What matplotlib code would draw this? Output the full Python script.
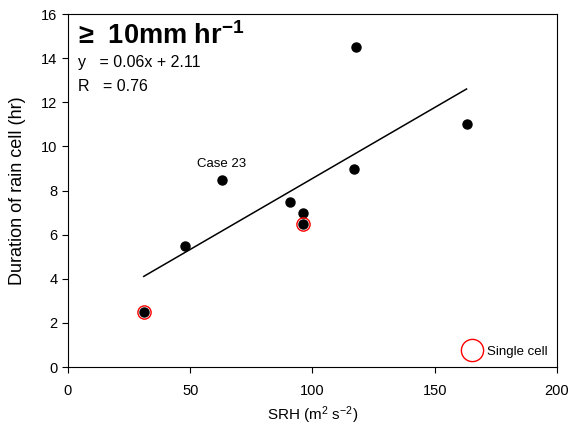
import numpy as np
import matplotlib.pyplot as plt
from matplotlib.lines import Line2D

plt.rcParams['font.family'] = ['Liberation Sans', 'DejaVu Sans']
plt.rcParams['mathtext.fontset'] = 'custom'
plt.rcParams['mathtext.rm'] = 'Liberation Sans'
plt.rcParams['mathtext.it'] = 'Liberation Sans:italic'
plt.rcParams['mathtext.bf'] = 'Liberation Sans:bold'

srh = [31, 48, 63, 91, 96, 96, 117, 118, 163]
duration = [2.5, 5.5, 8.5, 7.5, 7.0, 6.5, 9.0, 14.5, 11.0]
single_srh = [31, 96]
single_dur = [2.5, 6.5]

fig = plt.figure(figsize=(5.71, 4.29), dpi=100)
ax = fig.add_axes([0.119, 0.1445, 0.8565, 0.8225])

# regression line
slope, icpt = np.polyfit(srh, duration, 1)
xs = np.array([min(srh), max(srh)])
ax.plot(xs, slope * xs + icpt, color='black', lw=1.1)

ax.plot(srh, duration, 'o', color='black', ms=6.5, zorder=3)
ax.plot(single_srh, single_dur, 'o', mfc='none', mec='red', ms=9.5, mew=1.0, zorder=4)

ax.text(63, 8.95, 'Case 23', ha='center', va='bottom', fontsize=9.5)

ax.text(0.02, 0.978, '≥  10mm hr$^{\\mathbf{-1}}$', transform=ax.transAxes,
        fontsize=19.5, fontweight='bold', va='top', ha='left')
ax.text(0.02, 0.862, 'y   = 0.06x + 2.11', transform=ax.transAxes, fontsize=11.5, va='center')
ax.text(0.02, 0.795, 'R   = 0.76', transform=ax.transAxes, fontsize=11.5, va='center')

h = Line2D([], [], ls='none', marker='o', mfc='none', mec='red', ms=16, mew=1.0)
ax.legend([h], ['Single cell'], loc='lower right', frameon=False, fontsize=9.5,
          handletextpad=0.4, borderaxespad=0.3, handlelength=1.5)

ax.set_xlim(0, 200)
ax.set_ylim(0, 16)
ax.set_xticks([0, 50, 100, 150, 200])
ax.set_yticks(range(0, 17, 2))
ax.tick_params(direction='out', length=4, labelsize=10.5, top=False, right=False)
ax.tick_params(axis='x', pad=8)
ax.set_xlabel('SRH (m$^2$ s$^{-2}$)', fontsize=11, labelpad=5)
ax.set_ylabel('Duration of rain cell (hr)', fontsize=13, labelpad=11)

fig.savefig('out.png', dpi=100)
